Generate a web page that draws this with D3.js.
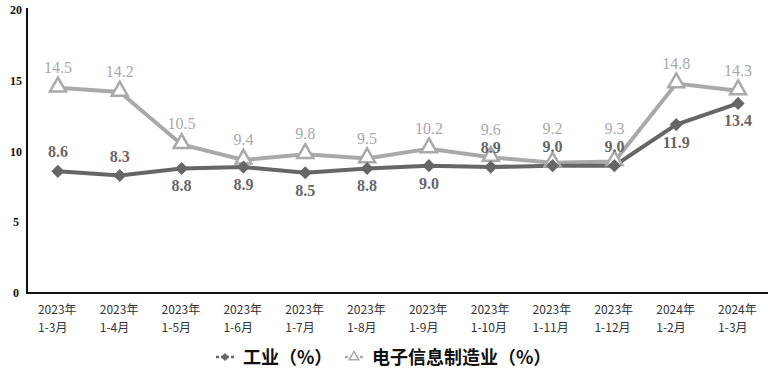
<!DOCTYPE html>
<html>
<head>
<meta charset="utf-8">
<script src="https://cdn.jsdelivr.net/npm/d3@7"></script>
<style>
body { margin: 0; background: #fff; }
</style>
</head>
<body>
<div id="chart"></div>
<script>
var width = 768,
    height = 378,
    periods = ['2023年|1-3月', '2023年|1-4月', '2023年|1-5月', '2023年|1-6月',
        '2023年|1-7月', '2023年|1-8月', '2023年|1-9月', '2023年|1-10月',
        '2023年|1-11月', '2023年|1-12月', '2024年|1-2月', '2024年|1-3月'],
    industry = [8.6, 8.3, 8.8, 8.9, 8.5, 8.8, 9.0, 8.9, 9.0, 9.0, 11.9, 13.4],
    // label above (1) or below (-1) the point
    industryPos = [1, 1, -1, -1, -1, -1, -1, 1, 1, 1, -1, -1],
    electronics = [14.5, 14.2, 10.5, 9.4, 9.8, 9.5, 10.2, 9.6, 9.2, 9.3, 14.8, 14.3],
    yTicks = [0, 5, 10, 15, 20],
    DARK = '#666666',
    LIGHT = '#a9a9a9';

var svg = d3.select('#chart').append('svg')
    .attr('width', width)
    .attr('height', height);

var x = d3.scaleBand().domain(d3.range(periods.length)).range([27, 769]),
    y = d3.scaleLinear().domain([0, 20]).range([293, 10]);

function cx(i) { return x(i) + x.bandwidth() / 2; }

function industryLabelY(d, i) {
    return industryPos[i] > 0 ? y(d) - 14 : y(d) + 23;
}

// y tick labels
svg.selectAll('.ytick')
    .data(yTicks)
    .enter()
    .append('text')
    .attr('x', 16)
    .attr('y', function (d) { return y(d) + 4; })
    .attr('text-anchor', 'middle')
    .style('font-family', '"Liberation Serif", serif')
    .style('font-weight', 'bold')
    .style('font-size', '12px')
    .style('fill', '#111')
    .text(function (d) { return d; });

// axes
svg.append('line')
    .attr('x1', 27).attr('x2', 27)
    .attr('y1', y(20) - 2).attr('y2', y(0))
    .style('stroke', '#111').style('stroke-width', 2);
svg.append('line')
    .attr('x1', 26).attr('x2', 768)
    .attr('y1', y(0)).attr('y2', y(0))
    .style('stroke', '#111').style('stroke-width', 2);

// x labels
var xl = svg.selectAll('.xlab')
    .data(periods)
    .enter()
    .append('text')
    .attr('x', function (d, i) { return cx(i) - 20; })
    .attr('y', 314)
    .style('font-family', '"Noto Sans CJK SC", sans-serif')
    .style('font-size', '12px')
    .style('fill', '#333');
xl.append('tspan')
    .attr('x', function (d, i) { return cx(i) - 20; })
    .text(function (d) { return d.split('|')[0]; });
xl.append('tspan')
    .attr('x', function (d, i) { return cx(i) - 20; })
    .attr('dy', 18)
    .text(function (d) { return d.split('|')[1]; });

var line = d3.line()
    .x(function (d, i) { return cx(i); })
    .y(function (d) { return y(d); });

// electronics line
svg.append('path')
    .datum(electronics)
    .attr('d', line)
    .style('fill', 'none')
    .style('stroke', LIGHT)
    .style('stroke-width', 4);

// industry line
svg.append('path')
    .datum(industry)
    .attr('d', line)
    .style('fill', 'none')
    .style('stroke', DARK)
    .style('stroke-width', 4);

var tri = d3.symbol().type(d3.symbolTriangle).size(110),
    dia = d3.symbol().type(d3.symbolDiamond2).size(110);

svg.selectAll('.tri')
    .data(electronics)
    .enter()
    .append('path')
    .attr('d', tri)
    .attr('transform', function (d, i) { return 'translate(' + cx(i) + ',' + (y(d) - 1) + ')'; })
    .style('fill', '#fff')
    .style('stroke', LIGHT)
    .style('stroke-width', 2.5);

svg.selectAll('.dia')
    .data(industry)
    .enter()
    .append('path')
    .attr('d', dia)
    .attr('transform', function (d, i) { return 'translate(' + cx(i) + ',' + y(d) + ')'; })
    .style('fill', DARK);

// data labels; electronics labels step up over industry labels placed above
svg.selectAll('.elab')
    .data(electronics)
    .enter()
    .append('text')
    .attr('x', function (d, i) { return cx(i); })
    .attr('y', function (d, i) {
        var yy = y(d) - 15;
        if (industryPos[i] > 0) yy = Math.min(yy, industryLabelY(industry[i], i) - 18);
        return yy;
    })
    .attr('text-anchor', 'middle')
    .style('font-family', '"Liberation Serif", serif')
    .style('font-size', '16px')
    .style('fill', LIGHT)
    .text(function (d) { return d.toFixed(1); });

svg.selectAll('.ilab')
    .data(industry)
    .enter()
    .append('text')
    .attr('x', function (d, i) { return cx(i); })
    .attr('y', industryLabelY)
    .attr('text-anchor', 'middle')
    .style('font-family', '"Liberation Serif", serif')
    .style('font-size', '16px')
    .style('font-weight', 'bold')
    .style('fill', DARK)
    .text(function (d) { return d.toFixed(1); });

// legend
var legend = [
    { name: '工业（%）', color: DARK, type: d3.symbolDiamond2, fill: DARK, x: 216 },
    { name: '电子信息制造业（%）', color: LIGHT, type: d3.symbolTriangle, fill: '#fff', x: 345 }
];
legend.forEach(function (l) {
    var g = svg.append('g').attr('transform', 'translate(' + l.x + ',357)');
    g.append('line')
        .attr('x1', 0).attr('x2', 18)
        .style('stroke', l.color)
        .style('stroke-width', 2.5)
        .style('stroke-dasharray', '3,2');
    g.append('path')
        .attr('d', d3.symbol().type(l.type).size(40))
        .attr('transform', 'translate(9,0)')
        .style('fill', l.fill)
        .style('stroke', l.color)
        .style('stroke-width', l.type === d3.symbolTriangle ? 1.5 : 0);
    g.append('text')
        .attr('x', 27)
        .attr('y', 7)
        .style('font-family', '"Noto Sans CJK SC", sans-serif')
        .style('font-weight', 'bold')
        .style('font-size', '18px')
        .style('fill', '#111')
        .text(l.name);
});
</script>
</body>
</html>
